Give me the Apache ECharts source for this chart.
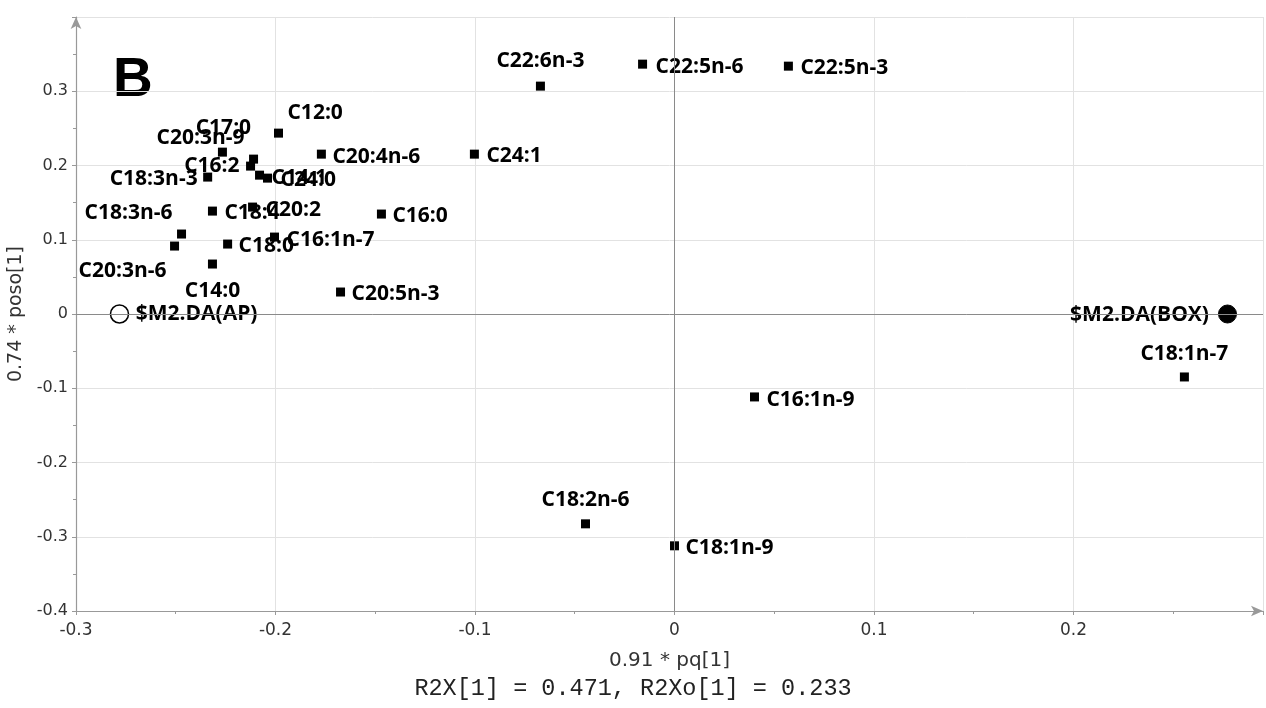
<!DOCTYPE html>
<html>
<head>
<meta charset="utf-8">
<script src="https://cdn.jsdelivr.net/npm/echarts@6/dist/echarts.min.js"></script>
<style>html,body{margin:0;padding:0;background:#fff}#c{width:1266px;height:708px}</style>
</head>
<body>
<div id="c"></div>
<script>
// ---- data ----
var names = ['C12:0','C17:0','C20:3n-9','C16:2','C18:3n-3','C14:1','C24:0','C20:4n-6','C24:1','C18:4','C20:2','C16:0','C18:3n-6','C20:3n-6','C18:0','C16:1n-7','C14:0','C20:5n-3','C22:6n-3','C22:5n-6','C22:5n-3','C18:1n-7','C16:1n-9','C18:2n-6','C18:1n-9'];
var pq = [-0.1985,-0.2266,-0.211,-0.2125,-0.234,-0.208,-0.204,-0.177,-0.1003,-0.2316,-0.2115,-0.1469,-0.2471,-0.2506,-0.224,-0.2005,-0.2316,-0.1674,-0.0672,-0.016,0.0571,0.2556,0.0401,-0.0446,0.0];
var poso = [0.2436,0.218,0.2086,0.1992,0.1844,0.187,0.183,0.2153,0.2153,0.1386,0.144,0.1346,0.1077,0.0915,0.0942,0.1036,0.0673,0.0296,0.3069,0.3365,0.3338,-0.0848,-0.1117,-0.2826,-0.3122];
var classNames = ['$M2.DA(AP)','$M2.DA(BOX)'];
var classPq = [-0.2782,0.2772];
var classPoso = [0,0];
var xTicks = [-0.3,-0.2,-0.1,0,0.1,0.2];
var yTicks = [-0.4,-0.3,-0.2,-0.1,0,0.1,0.2,0.3];

// label placement (style): [dx, dy, align] relative to the marker centre
var lp = {
 'C12:0':[9,-20,'left'],'C17:0':[1,-24,'center'],'C20:3n-9':[-9,-21,'right'],'C16:2':[-11,0,'right'],
 'C18:3n-3':[-10,2,'right'],'C14:1':[12,3,'left'],'C24:0':[13,2,'left'],'C20:4n-6':[11,3,'left'],
 'C24:1':[12,2,'left'],'C18:4':[12,2,'left'],'C20:2':[13,3,'left'],'C16:0':[11,2,'left'],
 'C18:3n-6':[-9,-21,'right'],'C20:3n-6':[-8,25,'right'],'C18:0':[11,2,'left'],'C16:1n-7':[12,3,'left'],
 'C14:0':[0,27,'center'],'C20:5n-3':[11,2,'left'],'C22:6n-3':[0,-25,'center'],'C22:5n-6':[13,3,'left'],
 'C22:5n-3':[12,2,'left'],'C18:1n-7':[0,-23,'center'],'C16:1n-9':[12,3,'left'],'C18:2n-6':[0,-24,'center'],
 'C18:1n-9':[11,2,'left'],'$M2.DA(AP)':[17,1,'left'],'$M2.DA(BOX)':[-18,2,'right']
};
var labelFont = {fontFamily:'Open Sans', fontWeight:'bold', fontSize:21, color:'#000'};

function mkLabel(n, half){
  var p = lp[n];
  return Object.assign({show:true, position:[half+p[0], half+p[1]], align:p[2], verticalAlign:'middle', formatter:n}, labelFont);
}

var faData = names.map(function(n,i){ return {name:n, value:[pq[i],poso[i]], label:mkLabel(n,4.5)}; });
var clData = classNames.map(function(n,i){
  return {name:n, value:[classPq[i],classPoso[i]], label:mkLabel(n,9),
    itemStyle: i===0 ? {color:'#fff', borderColor:'#000', borderWidth:1.5, opacity:1} : {color:'#000', borderColor:'#000', borderWidth:1, opacity:1}};
});

var chart = echarts.init(document.getElementById('c'));
var axisCommon = {
  axisLine:{show:true, onZero:false, lineStyle:{color:'#999', width:1.2}, symbol:['none','arrow'], symbolSize:[8,12]},
  axisTick:{show:true, length:4, lineStyle:{color:'#999'}},
  minorTick:{show:true, splitNumber:2, length:3, lineStyle:{color:'#999'}},
  splitLine:{show:true, lineStyle:{color:'#e2e2e2', width:1}},
  axisLabel:{fontFamily:'DejaVu Sans', fontSize:16, color:'#333', showMaxLabel:false, margin:8}
};
chart.setOption({
  animation:false,
  grid:{left:76, right:3, top:17, bottom:97, containLabel:false, outerBoundsMode:'none'},
  xAxis:Object.assign({}, axisCommon, {type:'value', min:-0.3, max:0.295, interval:0.1,
    axisLabel:Object.assign({}, axisCommon.axisLabel, {fontSize:17, margin:11, formatter:function(v){ return xTicks.some(function(t){return Math.abs(t-v)<1e-9;}) ? String(+v.toFixed(2)) : ''; }}),
    name:'0.91 * pq[1]', nameLocation:'middle', nameGap:40,
    nameTextStyle:{fontFamily:'DejaVu Sans', fontSize:20, color:'#333'}}),
  yAxis:Object.assign({}, axisCommon, {type:'value', min:-0.4, max:0.4, interval:0.1,
    axisLabel:Object.assign({}, axisCommon.axisLabel, {formatter:function(v){ return yTicks.some(function(t){return Math.abs(t-v)<1e-9;}) ? String(+v.toFixed(2)) : ''; }}),
    name:'0.74 * poso[1]', nameLocation:'middle', nameGap:45,
    nameTextStyle:{fontFamily:'DejaVu Sans', fontSize:19, color:'#333'}}),
  graphic:[
    {type:'text', left:'center', top:677, style:{text:'R2X[1] = 0.471, R2Xo[1] = 0.233', font:'23.5px "Liberation Mono"', fill:'#222'}},
    {type:'text', left:113, top:53, style:{text:'B', font:'bold 55px "Liberation Sans"', fill:'#000'}}
  ],
  series:[
    {type:'scatter', symbol:'rect', symbolSize:9, itemStyle:{color:'#000', opacity:1}, data:faData, z:3,
     markLine:{silent:true, symbol:['none','none'], label:{show:false}, lineStyle:{color:'#8a8a8a', width:1, type:'solid'},
       data:[{xAxis:0},{yAxis:0}]}},
    {type:'scatter', symbol:'circle', symbolSize:18, itemStyle:{opacity:1}, data:clData, z:4}
  ]
});
</script>
</body>
</html>
